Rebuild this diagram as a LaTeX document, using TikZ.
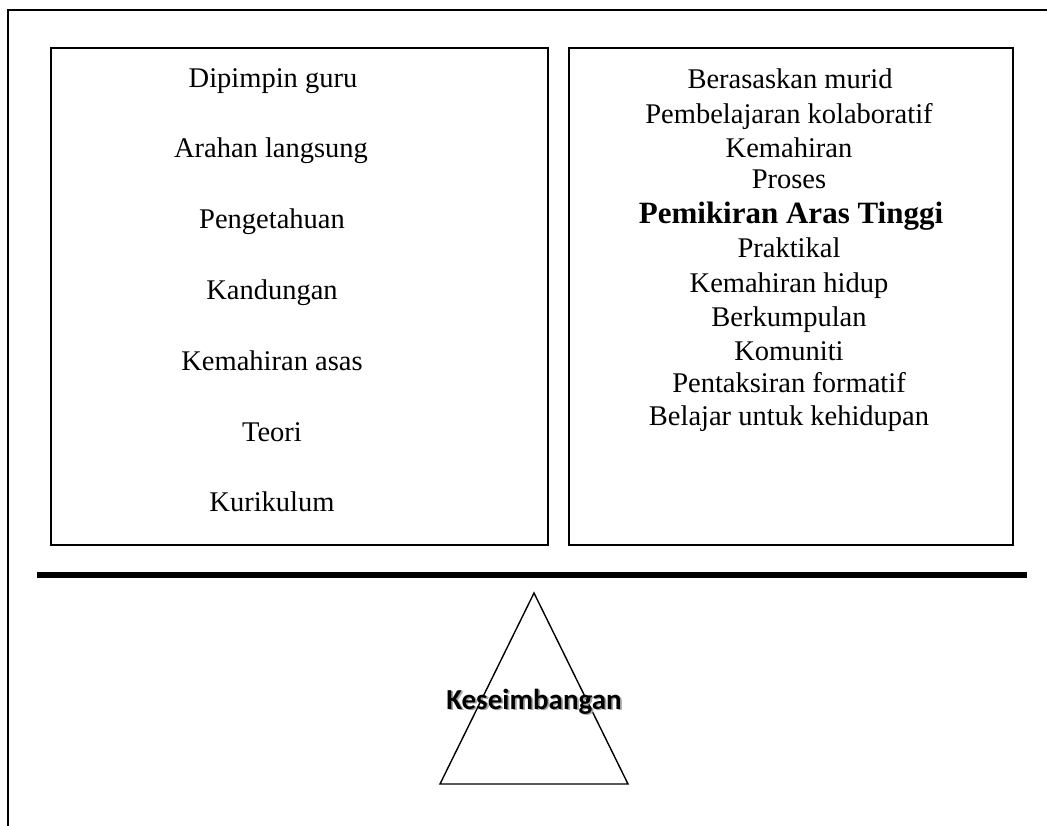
\documentclass[tikz,border=0pt]{standalone}
\usepackage{fontspec}
\setmainfont{Liberation Serif}
\newfontfamily\calib{Carlito}
\begin{document}
\begin{tikzpicture}[x=1pt,y=-1pt,
  box/.style={draw=black,line width=1.8pt,minimum height=497pt,inner sep=0pt},
  reg/.style={anchor=base,inner sep=0pt,font=\fontsize{28.5}{34}\selectfont},
  bld/.style={anchor=base,inner sep=0pt,font=\fontsize{31}{36}\selectfont\bfseries},
  lbl/.style={anchor=base,inner sep=0pt,font=\calib\fontsize{29}{34}\selectfont\bfseries}]
\useasboundingbox (0,0) rectangle (1047,825);
\clip (0,0) rectangle (1047,825);
% outer frame (clipped at right and bottom)
\coordinate (oTL) at (8.3,10);
\coordinate (oTR) at (1060,10);
\coordinate (oBL) at (8.3,840);
\draw[line width=2.2pt] (oBL) -- (oTL) -- (oTR);
% boxes
\node[box,minimum width=497pt] (left) at (299.5,296.5) {};
\node[box,minimum width=444pt] (right) at (791,296.5) {};
% left texts
\node[reg] (l1) at (273,87) {Dipimpin guru};
\node[reg] (l2) at (271,157.8) {Arahan langsung};
\node[reg] (l3) at (272,228.6) {Pengetahuan};
\node[reg] (l4) at (272,299.4) {Kandungan};
\node[reg] (l5) at (272,370.2) {Kemahiran asas};
\node[reg] (l6) at (272,441) {Teori};
\node[reg] (l7) at (272,511.8) {Kurikulum};
% right texts
\node[reg] (r1) at (790,88) {Berasaskan murid};
\node[reg] (r2) at (789,123) {Pembelajaran kolaboratif};
\node[reg] (r3) at (789,157) {Kemahiran};
\node[reg] (r4) at (789,188) {Proses};
\node[bld] (r5) at (791,223) {Pemikiran Aras Tinggi};
\node[reg] (r6) at (789,257) {Praktikal};
\node[reg] (r7) at (789,292) {Kemahiran hidup};
\node[reg] (r8) at (789,326) {Berkumpulan};
\node[reg] (r9) at (789,360) {Komuniti};
\node[reg] (r10) at (789,392.5) {Pentaksiran formatif};
\node[reg] (r11) at (789,425.5) {Belajar untuk kehidupan};
% beam
\coordinate (bL) at (37,575);
\coordinate (bR) at (1027,575);
\draw[line width=6pt] (bL) -- (bR);
% fulcrum
\coordinate (tA) at (534,593);
\coordinate (tR) at (628,784);
\coordinate (tL) at (440,784);
\draw[line width=1.4pt,line join=miter] (tA) -- (tR) -- (tL) -- cycle;
\node[lbl,text=black!35] (kshadow) at (535.8,710.8) {Keseimbangan};
\node[lbl] (k) at (534,709) {Keseimbangan};
\end{tikzpicture}
\end{document}
